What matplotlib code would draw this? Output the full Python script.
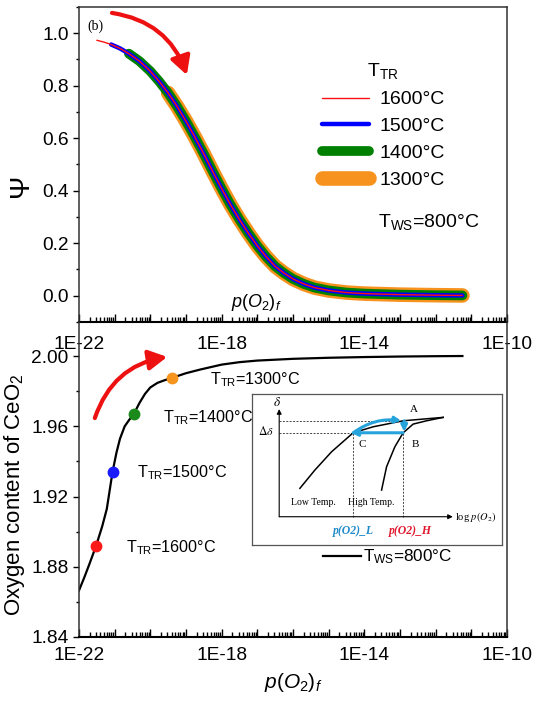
import numpy as np
import matplotlib.pyplot as plt
from matplotlib.ticker import LogLocator, FuncFormatter, NullFormatter, MultipleLocator, FormatStrFormatter

plt.rcParams['font.family'] = ['Liberation Sans', 'DejaVu Sans']
plt.rcParams['mathtext.fontset'] = 'custom'
plt.rcParams['mathtext.rm'] = 'Liberation Sans'
plt.rcParams['mathtext.it'] = 'Liberation Sans:italic'

# ---- top panel: Psi vs log10 p(O2)_f (same curve, each T_TR starts further right)
psi_logp = [-21.50, -21.30, -21.10, -20.85, -20.60, -20.30, -20.00, -19.75, -19.50,
            -19.25, -19.00, -18.75, -18.50, -18.25, -18.00, -17.75, -17.50, -17.25,
            -17.00, -16.75, -16.50, -16.25, -16.00, -15.70, -15.40, -15.00, -14.50,
            -14.00, -13.00, -12.00, -11.25]
psi = [0.973, 0.966, 0.957, 0.942, 0.922, 0.893, 0.855, 0.816, 0.772,
       0.721, 0.665, 0.604, 0.540, 0.473, 0.408, 0.346, 0.290, 0.238,
       0.190, 0.148, 0.112, 0.086, 0.064, 0.045, 0.031, 0.020, 0.012,
       0.008, 0.004, 0.002, 0.001]
temps = ['1600\u00b0C', '1500\u00b0C', '1400\u00b0C', '1300\u00b0C']
psi_start = [-21.50, -21.10, -20.60, -19.50]
line_colors = ['#ff1010', '#0000ff', '#008000', '#f7921e']
line_widths = [1.0, 3.2, 7.0, 10.5]

# ---- bottom panel: oxygen content of CeO2 at T_WS = 800 C
ox_logp = [-22.00, -21.85, -21.70, -21.52, -21.35, -21.22, -21.06, -20.95, -20.85,
           -20.72, -20.60, -20.46, -20.30, -20.15, -20.00, -19.80, -19.60, -19.40,
           -19.00, -18.60, -18.00, -17.50, -17.00, -16.00, -15.00, -14.00, -13.00,
           -12.00, -11.25]
ox_content = [1.8665, 1.8740, 1.8820, 1.8920, 1.9030, 1.9130, 1.9340, 1.9450, 1.9530,
              1.9600, 1.9635, 1.9672, 1.9735, 1.9785, 1.9822, 1.9848, 1.9863, 1.9876,
              1.9903, 1.9924, 1.9952, 1.9966, 1.9975, 1.9985, 1.9991, 1.9995, 1.9998,
              2.0000, 2.0001]
dot_logp = [-21.52, -21.06, -20.46, -19.40]
dot_content = [1.8920, 1.9340, 1.9672, 1.9876]
dot_colors = ['#ff1a1a', '#1a1aff', '#1b8a1b', '#f7941d']
dot_label_pos = [(0.110, 0.283), (0.136, 0.521), (0.196, 0.695), (0.306, 0.816)]

# ---- inset schematic (inset pixel units, 250 x 151)
low_u = [48, 63, 79.7, 101.3, 121.3, 151.3, 174.7, 191.3]
low_v = [56.7, 75, 93.3, 112.3, 118.3, 124.3, 126.3, 127.7]
high_u = [129.7, 134.7, 143, 151.3, 161.3, 174.7, 191.3]
high_v = [55, 78.3, 98.3, 112.3, 121, 124.3, 127.7]
pt_A = (151.3, 124.3)
pt_B = (151.3, 112.3)
pt_C = (101.3, 112.3)

TICK_FS = 13.8


def decade_label(v, pos):
    e = int(round(np.log10(v)))
    return '1E%d' % e if e % 4 == 2 else ''


def setup_xaxis(ax):
    ax.set_xscale('log')
    ax.set_xlim(1e-22, 1e-10)
    ax.xaxis.set_major_locator(LogLocator(base=10, numticks=30))
    ax.xaxis.set_minor_locator(LogLocator(base=10, subs=np.arange(2, 10), numticks=30))
    ax.xaxis.set_major_formatter(FuncFormatter(decade_label))
    ax.xaxis.set_minor_formatter(NullFormatter())
    ax.tick_params(axis='x', which='both', direction='in', top=False, labelsize=TICK_FS, width=1.0)
    ax.tick_params(axis='x', which='major', length=6)
    ax.tick_params(axis='x', which='minor', length=3.5)
    ax.tick_params(axis='y', which='both', direction='out', right=False, labelsize=TICK_FS, width=1.0)
    ax.tick_params(axis='y', which='major', length=4)
    ax.tick_params(axis='y', which='minor', length=2.5)
    for s in ax.spines.values():
        s.set_color('#333333')
        s.set_linewidth(1.1)
    ax.spines['bottom'].set_color('black')
    ax.spines['bottom'].set_linewidth(1.5)


fig = plt.figure(figsize=(5.37, 7.15), dpi=100)
ax1 = fig.add_axes([0.1471, 0.5497, 0.797, 0.4406])
ax2 = fig.add_axes([0.1471, 0.1091, 0.797, 0.4406])
ax2.patch.set_visible(False)

# ---- top
setup_xaxis(ax1)
ax1.tick_params(axis='x', which='major', pad=10)
ax1.set_ylim(-0.1, 1.1)
ax1.yaxis.set_major_locator(MultipleLocator(0.2))
ax1.yaxis.set_minor_locator(MultipleLocator(0.1))
ax1.yaxis.set_major_formatter(FormatStrFormatter('%.1f'))

lp = np.array(psi_logp)
ps = np.array(psi)
handles = []
for i, t in enumerate(temps):
    m = lp >= psi_start[i] - 1e-9
    h, = ax1.plot(10.0 ** lp[m], ps[m], color=line_colors[i], lw=line_widths[i],
                  solid_capstyle='round', zorder=10 - i, label=t)
    handles.append(h)

leg = ax1.legend(handles=handles, title=r'T$_{\mathregular{TR}}$', loc='upper left',
                 bbox_to_anchor=(0.545, 0.858), frameon=False, fontsize=14, title_fontsize=14,
                 handlelength=2.4, handletextpad=0.55, labelspacing=0.48, borderpad=0)
ax1.text(0.699, 0.317, r'T$_{\mathregular{WS}}$=800$\mathregular{\degree}$C', transform=ax1.transAxes,
         fontsize=14, va='center', ha='left')
ax1.text(0.414, 0.063, r'$p(O_2)_f$', transform=ax1.transAxes, fontsize=13, ha='center', va='center')
ax1.text(0.019, 0.94, '(b)', transform=ax1.transAxes, fontsize=10, family='Liberation Serif',
         ha='left', va='center')
ax1.set_ylabel('\u03a8', fontsize=20)
ax1.yaxis.set_label_coords(-0.106, 0.435)
ax1.annotate('', xy=(0.252, 0.784), xytext=(0.077, 0.981), xycoords='axes fraction',
             arrowprops=dict(arrowstyle='-|>,head_length=0.55,head_width=0.3', mutation_scale=20,
                             color='#ee1111', lw=3, shrinkA=0, shrinkB=0,
                             connectionstyle='arc3,rad=-0.3'))

# ---- bottom
setup_xaxis(ax2)
ax2.tick_params(axis='x', which='major', pad=7.5)
ax2.spines['top'].set_visible(False)
ax2.set_ylim(1.84, 2.0195)
ax2.yaxis.set_major_locator(MultipleLocator(0.04))
ax2.yaxis.set_minor_locator(MultipleLocator(0.02))
ax2.yaxis.set_major_formatter(FormatStrFormatter('%.2f'))

ax2.plot(10.0 ** np.array(ox_logp), ox_content, color='black', lw=1.6,
         label=r'T$_{\mathregular{WS}}$=800$\mathregular{\degree}$C')
for i in range(len(dot_logp)):
    ax2.plot(10.0 ** dot_logp[i], dot_content[i], 'o', color=dot_colors[i], ms=7.5, zorder=5)
    ax2.text(dot_label_pos[i][0], dot_label_pos[i][1],
             r'T$_{\mathregular{TR}}$=' + temps[i].replace('\u00b0', r'$\mathregular{\degree}$'),
             transform=ax2.transAxes, fontsize=11.6, va='center', ha='left')
ax2.legend(loc='center left', bbox_to_anchor=(0.55, 0.254), frameon=False, fontsize=12.3,
           handlelength=2.2, handletextpad=0.15, borderpad=0)
ax2.set_xlabel(r'$p(O_2)_f$', fontsize=15, labelpad=4.5)
ax2.set_ylabel(r'Oxygen content of CeO$_{\mathregular{2}}$', fontsize=16)
ax2.yaxis.set_label_coords(-0.121, 0.451)
ax2.annotate('', xy=(0.206, 0.889), xytext=(0.037, 0.695), xycoords='axes fraction',
             arrowprops=dict(arrowstyle='-|>,head_length=0.55,head_width=0.3', mutation_scale=20,
                             color='#ee1111', lw=3, shrinkA=0, shrinkB=0,
                             connectionstyle='arc3,rad=-0.3'))

# ---- inset schematic
ins = ax2.inset_axes([0.404, 0.292, 0.584, 0.479])
ins.set_xlim(0, 250)
ins.set_ylim(0, 151)
ins.set_xticks([])
ins.set_yticks([])
for s in ins.spines.values():
    s.set_color('#555555')
    s.set_linewidth(0.9)
serif = 'Liberation Serif'
ins.annotate('', xy=(27.3, 136), xytext=(27.3, 28.3),
             arrowprops=dict(arrowstyle='-|>', mutation_scale=7, lw=0.8, color='black', shrinkA=0, shrinkB=0))
ins.annotate('', xy=(201, 28.3), xytext=(27.3, 28.3),
             arrowprops=dict(arrowstyle='-|>', mutation_scale=7, lw=0.8, color='black', shrinkA=0, shrinkB=0))
dash = dict(color='#444444', lw=0.7, ls=(0, (2, 1.5)))
ins.plot([27.3, pt_A[0]], [pt_A[1], pt_A[1]], **dash)
ins.plot([27.3, pt_B[0]], [pt_B[1], pt_B[1]], **dash)
ins.plot([pt_C[0], pt_C[0]], [28.3, pt_C[1]], **dash)
ins.plot([pt_B[0], pt_B[0]], [28.3, pt_B[1]], **dash)
ins.plot(low_u, low_v, color='black', lw=1.1)
ins.plot(high_u, high_v, color='black', lw=1.1)
blue = '#27a3dc'
ins.annotate('', xy=(pt_A[0] - 2, pt_A[1]), xytext=pt_C,
             arrowprops=dict(arrowstyle='-|>', mutation_scale=9, lw=2.2, color=blue,
                             shrinkA=0, shrinkB=0, connectionstyle='arc3,rad=-0.2'))
ins.annotate('', xy=(pt_B[0] + 1, pt_B[1] + 1), xytext=(pt_A[0] + 1, pt_A[1]),
             arrowprops=dict(arrowstyle='-|>', mutation_scale=9, lw=2.2, color=blue, shrinkA=0, shrinkB=0))
ins.annotate('', xy=(pt_C[0] - 2, pt_C[1]), xytext=pt_B,
             arrowprops=dict(arrowstyle='-|>', mutation_scale=9, lw=2.2, color=blue, shrinkA=0, shrinkB=0))
ins.text(24.7, 143, r'$\delta$', fontsize=9.5, ha='center', va='center', math_fontfamily='stix')
ins.text(14, 114, r'$\Delta\delta$', fontsize=8.5, ha='center', va='center', math_fontfamily='stix')
ins.text(162, 136, 'A', fontsize=8, ha='center', va='center', family=serif)
ins.text(164, 101, 'B', fontsize=8, ha='center', va='center', family=serif)
ins.text(110.7, 101, 'C', fontsize=8, ha='center', va='center', family=serif)
ins.text(62, 42.3, 'Low Temp.', fontsize=7, ha='center', va='center', family=serif)
ins.text(119.7, 42.3, 'High Temp.', fontsize=7, ha='center', va='center', family=serif)
ins.text(203, 28.3, r'log $p(O_2)$', fontsize=7.5, ha='left', va='center', family=serif,
         math_fontfamily='stix')
ins.text(pt_C[0], 14.3, 'p(O2)_L', fontsize=8.5, ha='center', va='center', family=serif,
         style='italic', weight='bold', color='#1f8bc9')
ins.text(158, 14.3, 'p(O2)_H', fontsize=8.5, ha='center', va='center', family=serif,
         style='italic', weight='bold', color='#e0182d')

fig.savefig('out.png', dpi=100)
